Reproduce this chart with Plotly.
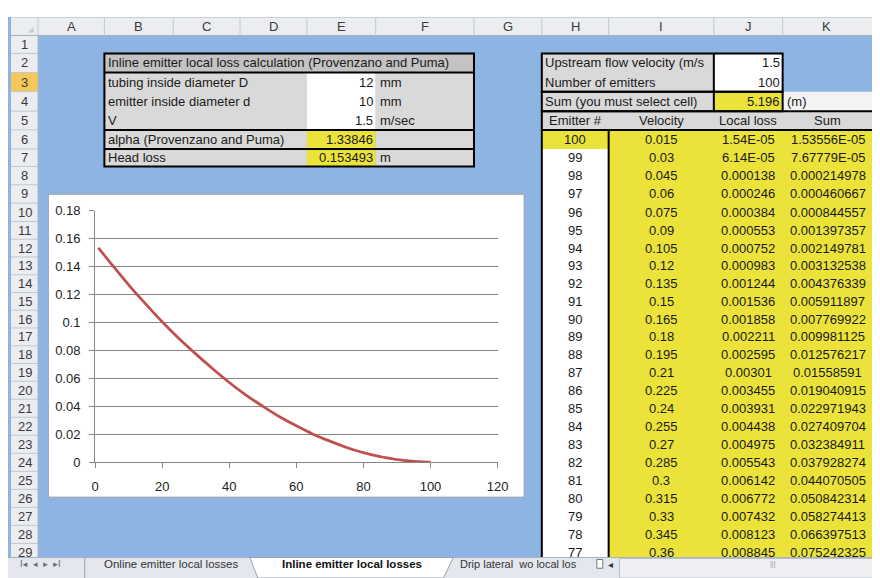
import plotly.graph_objects as go

# ---------------- data ----------------
sheet_columns = ["A", "B", "C", "D", "E", "F", "G", "H", "I", "J", "K"]
sheet_rows = list(range(1, 30))
sheet_tabs = ["Online emitter local losses", "Inline emitter local losses", "Drip lateral  wo local los"]

table1_title = "Inline emitter local loss calculation (Provenzano and Puma)"
table1_labels = ["tubing inside diameter D", "emitter inside diameter d", "V",
                 "alpha (Provenzano and Puma)", "Head loss"]
table1_values = [12, 10, 1.5, 1.33846, 0.153493]
table1_units = ["mm", "mm", "m/sec", "", "m"]

input_labels = ["Upstream flow velocity (m/s", "Number of emitters", "Sum (you must select cell)"]
input_values = [1.5, 100, 5.196]
input_unit = "(m)"

col_headers = ["Emitter #", "Velocity", "Local loss", "Sum"]
emitter_no = [100, 99, 98, 97, 96, 95, 94, 93, 92, 91, 90, 89, 88, 87, 86, 85, 84, 83, 82, 81, 80, 79, 78, 77]
velocity = [0.015, 0.03, 0.045, 0.06, 0.075, 0.09, 0.105, 0.12, 0.135, 0.15, 0.165, 0.18,
            0.195, 0.21, 0.225, 0.24, 0.255, 0.27, 0.285, 0.3, 0.315, 0.33, 0.345, 0.36]
local_loss = [1.54e-05, 6.14e-05, 0.000138, 0.000246, 0.000384, 0.000553, 0.000752, 0.000983,
              0.001244, 0.001536, 0.001858, 0.002211, 0.002595, 0.00301, 0.003455, 0.003931,
              0.004438, 0.004975, 0.005543, 0.006142, 0.006772, 0.007432, 0.008123, 0.008845]
cum_sum = [1.53556e-05, 7.67779e-05, 0.000214978, 0.000460667, 0.000844557, 0.001397357,
           0.002149781, 0.003132538, 0.004376339, 0.005911897, 0.007769922, 0.009981125,
           0.012576217, 0.01558591, 0.019040915, 0.022971943, 0.027409704, 0.032384911,
           0.037928274, 0.044070505, 0.050842314, 0.058274413, 0.066397513, 0.075242325]

# chart curve (emitters 1..75), plus table values for 77..100
chart_x_read = [1, 5, 10, 15, 20, 25, 30, 35, 40, 45, 50, 55, 60, 65, 70, 75]
chart_y_read = [0.1535, 0.1415, 0.127, 0.1135, 0.1005, 0.0885, 0.0775, 0.067, 0.057,
                0.048, 0.040, 0.0325, 0.026, 0.020, 0.015, 0.0105]
x_ticks = [0, 20, 40, 60, 80, 100, 120]
y_ticks = [0, 0.02, 0.04, 0.06, 0.08, 0.1, 0.12, 0.14, 0.16, 0.18]

# ---------------- geometry (screen pixels) ----------------
W, H = 880, 578
OFF = 8  # the page places the figure 8 px from the top-left corner
COL = [35, 102, 172, 240, 308, 378, 478, 547, 615, 722, 792, 882]
ROW = [29, 47.5, 67, 86.7, 106.7, 126, 145.5, 163.5, 182.3, 201.2, 220, 238.2, 256.4, 274.7,
       292.9, 311.1, 329.3, 347.6, 365.8, 384, 402.5, 421, 439.5, 458, 476.5, 495, 513.5,
       532, 550.5, 569]
TAB_Y = 565

BLUE = "#8DB4E2"
GRAY = "#D9D9D9"
DGRAY = "#C3C3C3"
YEL = "#EBE33A"
HDR = "#EBEDF0"
FONT = "Liberation Sans, Arial, sans-serif"

shapes, annos = [], []


def px(x):
    return (x - OFF) / W


def py(y):
    return 1 - (y - OFF) / H


def rect(x0, y0, x1, y1, fill=None, line=None, width=0, layer="below"):
    shapes.append(dict(type="rect", xref="paper", yref="paper",
                       x0=px(x0), x1=px(x1), y0=py(y1), y1=py(y0),
                       fillcolor=fill if fill else "rgba(0,0,0,0)",
                       line=dict(width=width, color=line if line else "rgba(0,0,0,0)"),
                       layer=layer))


def line(x0, y0, x1, y1, color="#000", width=2, layer="above"):
    shapes.append(dict(type="line", xref="paper", yref="paper",
                       x0=px(x0), x1=px(x1), y0=py(y0), y1=py(y1),
                       line=dict(width=width, color=color), layer=layer))


def text(x, y, s, anchor="left", size=13, color="#1a1a1a", family=FONT):
    annos.append(dict(xref="paper", yref="paper", x=px(x), y=py(y), text=s,
                      showarrow=False, xanchor=anchor, yanchor="middle",
                      font=dict(size=size, color=color, family=family), borderpad=0))


def fmt(v):
    return repr(v).upper()


def rc(k):  # row center
    return (ROW[k - 1] + ROW[k]) / 2


def cc(i):  # column center by index into COL
    return (COL[i] + COL[i + 1]) / 2


# ---------------- sheet chrome ----------------
rect(0, 0, W + OFF, 10, fill="white")
rect(7, 10, W + OFF, 29, fill=HDR)
line(7, 29, W + OFF, 29, color="#A9B1BC", width=1)
line(7, 10.5, W + OFF, 10.5, color="#C8CDD4", width=1)
for x in [34.5] + COL[1:-1]:
    line(x, 11, x, 29, color="#C3C8CF", width=1)
for i, c in enumerate(sheet_columns):
    text(cc(i), 20, c, anchor="center", size=13, color="#3a3a3a")
shapes.append(dict(type="path", xref="paper", yref="paper",
                   path=f"M {px(30)},{py(26)} L {px(30)},{py(20)} L {px(24)},{py(26)} Z",
                   fillcolor="#C5CAD0", line=dict(width=0), layer="above"))

rect(7, 29, 34.5, TAB_Y, fill=HDR)
rect(7, ROW[2], 34.5, ROW[3], fill="#F6C85A")
for k in range(1, 30):
    line(7, ROW[k], 34.5, ROW[k], color="#C3C8CF", width=1)
    text(21, rc(k), str(sheet_rows[k - 1]), anchor="center", size=13, color="#3a3a3a")
line(34.5, 29, 34.5, TAB_Y, color="#A9B1BC", width=1)

# ---------------- table 1 (B2:F7) ----------------
xB, xE, xF, xG = COL[1], COL[4], COL[5], COL[6]
rect(xB, ROW[1], xG, ROW[2], fill=DGRAY)
rect(xB, ROW[2], xE, ROW[7], fill=GRAY)
rect(xE, ROW[2], xF, ROW[5], fill="white")
rect(xE, ROW[5], xF, ROW[7], fill=YEL)
rect(xF, ROW[2], xG, ROW[7], fill=GRAY)
text(xB + 3, rc(2), table1_title)
for j in range(5):
    r = 3 + j
    text(xB + 3, rc(r), table1_labels[j])
    text(xF - 2, rc(r), fmt(table1_values[j]), anchor="right")
    if table1_units[j]:
        text(xF + 3, rc(r), table1_units[j])
rect(xB, ROW[1], xG, ROW[7], line="#000", width=2, layer="above")
for k in (2, 5, 6):
    line(xB, ROW[k], xG, ROW[k])

# ---------------- right table ----------------
xH, xI, xJ, xK = COL[7], COL[8], COL[9], COL[10]
RX = W + OFF
rect(xH, ROW[1], xJ, ROW[3], fill=GRAY)
rect(xJ, ROW[1], xK, ROW[3], fill="white")
rect(xH, ROW[3], xJ, ROW[4], fill=GRAY)
rect(xJ, ROW[3], xK, ROW[4], fill=YEL)
rect(xK, ROW[3], RX, ROW[4], fill="#F3F3F3")
rect(xH, ROW[4], RX, ROW[5], fill=GRAY)
rect(xH, ROW[5], xI, ROW[6], fill=YEL)
rect(xH, ROW[6], xI, TAB_Y, fill="white")
rect(xI, ROW[5], RX, TAB_Y, fill=YEL)

for j in range(3):
    r = 2 + j
    text(xH + 2, rc(r), input_labels[j])
    text(xK - 2, rc(r), fmt(input_values[j]), anchor="right")
text(xK + 3, rc(4), input_unit)

hx = [cc(7), cc(8), cc(9), 838]
for i, h in enumerate(col_headers):
    text(hx[i], rc(5), h, anchor="center")
for n in range(len(emitter_no)):
    r = 6 + n
    yy = rc(r)
    text(hx[0], yy, str(emitter_no[n]), anchor="center")
    text(hx[1], yy, fmt(velocity[n]), anchor="center")
    text(hx[2], yy, fmt(local_loss[n]), anchor="center")
    text(hx[3], yy, fmt(cum_sum[n]), anchor="center")

rect(xH, ROW[1], xK, ROW[3], line="#000", width=2, layer="above")
rect(xH, ROW[3], xK, ROW[4], line="#000", width=2, layer="above")
line(xJ, ROW[1], xJ, ROW[4])
line(xH, ROW[4], RX, ROW[4])
line(xH, ROW[5], RX, ROW[5])
line(xH, ROW[4], xH, TAB_Y)
line(xI, ROW[5], xI, TAB_Y)

# ---------------- chart box ----------------
rect(45, 192, 529, 503, fill="white", line="#A0A0A0", width=1)

# ---------------- tab bar ----------------
rect(0, TAB_Y, RX, H + OFF, fill="#E4E8EE", layer="above")
line(0, TAB_Y, RX, TAB_Y, color="#A9B1BC", width=1)
text(37, 572, "I◂  ◂  ▸  ▸I", anchor="center", size=9, color="#6a6a6a", family="DejaVu Sans")
shapes.append(dict(type="path", xref="paper", yref="paper",
                   path=(f"M {px(250)},{py(TAB_Y)} L {px(258)},{py(H + OFF)} L {px(447)},{py(H + OFF)} "
                         f"L {px(457)},{py(TAB_Y)} Z"),
                   fillcolor="white", line=dict(width=1, color="#9AA3AE"), layer="above"))
line(82, TAB_Y, 82, H + OFF, color="#9AA3AE", width=1)
text(170, 572, sheet_tabs[0], anchor="center", size=11.5, color="#333")
text(354, 572, "<b>" + sheet_tabs[1] + "</b>", anchor="center", size=11.5, color="#111")
text(463, 572, sheet_tabs[2], anchor="left", size=11, color="#333")
rect(603, 567, 609, 576, fill="white", line="#777", width=1, layer="above")
text(617, 572, "◂", anchor="center", size=10, color="#333", family="DejaVu Sans")
rect(626, 566, RX, H + OFF, fill="#EEF0F3", line="#B8C0CA", width=1, layer="above")
text(782, 572, "|||", anchor="center", size=7, color="#999")

# ---------------- chart ----------------
chart_x = chart_x_read + emitter_no[::-1]
chart_y = chart_y_read + local_loss[::-1]

fig = go.Figure()
fig.add_trace(go.Scatter(x=chart_x, y=chart_y, mode="lines", line_shape="spline",
                         line=dict(color="#C0504D", width=2.75), hoverinfo="skip",
                         showlegend=False))

fig.update_layout(
    width=W, height=H, margin=dict(l=0, r=0, t=0, b=0),
    paper_bgcolor=BLUE, plot_bgcolor="rgba(0,0,0,0)",
    shapes=shapes, annotations=annos, showlegend=False,
    xaxis=dict(domain=[px(92.5), px(502)], range=[0, 120], tickvals=x_ticks,
               showgrid=False, zeroline=False, showline=True, linecolor="#868686",
               linewidth=1, ticks="outside", ticklen=5, tickcolor="#868686",
               ticklabelstandoff=7,
               tickfont=dict(family=FONT, size=13, color="#222"), fixedrange=True),
    yaxis=dict(domain=[py(467), py(209)], range=[0, 0.18], tickvals=y_ticks,
               showgrid=True, gridcolor="#868686", gridwidth=1, zeroline=False,
               showline=True, linecolor="#868686", linewidth=1, ticks="outside",
               ticklen=5, tickcolor="#868686", ticklabelstandoff=6,
               tickfont=dict(family=FONT, size=13, color="#222"), fixedrange=True),
)

fig.write_html("out.html")
